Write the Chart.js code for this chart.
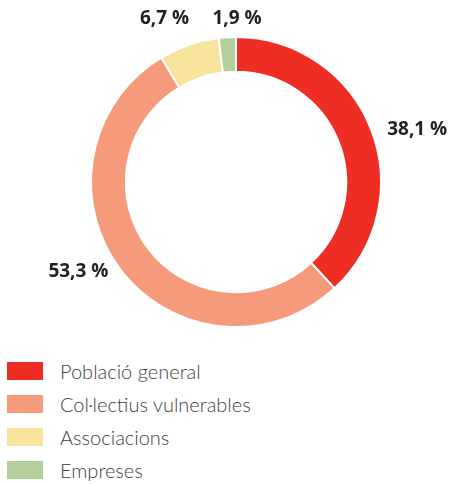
<!DOCTYPE html>
<html>
<head>
<meta charset="utf-8">
<script src="https://cdn.jsdelivr.net/npm/chart.js@4"></script>
<style>
  body { margin: 0; background: #fff; }
  #wrap { position: relative; width: 449px; height: 484px; }
  #legend { position: absolute; left: 7px; top: 354px; font-family: Lato, "Open Sans", sans-serif; font-weight: 300; font-size: 20px; color: #3e3e3e; }
  .row { height: 33px; display: flex; align-items: center; }
  .box { width: 36px; height: 18px; margin-right: 17px; }
</style>
</head>
<body>
<div id="wrap">
  <canvas id="donut" width="449" height="340"></canvas>
  <div id="legend"></div>
</div>
<script>
'use strict';

const categorias = ['Població general', 'Col·lectius vulnerables', 'Associacions', 'Empreses'];
const percentatges = [38.1, 53.3, 6.7, 1.9];
const colors = ['#ee2e24', '#f59b7c', '#f7e39c', '#b3cf9c'];

// llegenda a ma, una fila per categoria
const legend = document.querySelector('#legend');
for (let i = 0; i < categorias.length; i++) {
    let fila = document.createElement('div');
    fila.className = 'row';
    fila.innerHTML = '<span class="box" style="background:' + colors[i] + '"></span>' + categorias[i];
    legend.appendChild(fila);
}

// etiquetes de percentatge fora de l'anell
const etiquetes = {
    id: 'etiquetes',
    afterDatasetsDraw(chart) {
        const ctx = chart.ctx;
        const arcs = chart.getDatasetMeta(0).data;
        ctx.save();
        ctx.font = 'bold 19px "Open Sans", sans-serif';
        ctx.fillStyle = '#222';
        arcs.forEach((arc, i) => {
            const a = (arc.startAngle + arc.endAngle) / 2;
            const r = arc.outerRadius + 12;
            const s = Math.cos(a);   // horitzontal
            const c = -Math.sin(a);  // cap amunt
            let x = arc.x + r * s;
            let y = arc.y - r * c;
            const text = percentatges[i].toFixed(1).replace('.', ',') + ' %';
            if (c > 0.9) {
                ctx.textBaseline = 'bottom';
                y = arc.y - arc.outerRadius - 9;
                if (Math.abs(s) < 0.1) {
                    ctx.textAlign = 'center';
                    x = arc.x + 1;
                } else {
                    ctx.textAlign = s > 0 ? 'left' : 'right';
                    x += 4;
                }
            } else {
                ctx.textBaseline = 'middle';
                ctx.textAlign = s > 0 ? 'left' : 'right';
                x += s > 0 ? 5 : -2;
                y += s > 0 ? 5 : -5;
            }
            ctx.fillText(text, x, y);
        });
        ctx.restore();
    }
};

new Chart(document.getElementById('donut'), {
    type: 'doughnut',
    data: {
        labels: categorias,
        datasets: [{
            data: percentatges,
            backgroundColor: colors,
            borderColor: '#fff',
            borderWidth: 2,
            hoverOffset: 0
        }]
    },
    options: {
        responsive: false,
        animation: false,
        cutout: '76%',
        layout: { padding: { left: 90, right: 67, top: 36, bottom: 12 } },
        plugins: {
            legend: { display: false },
            tooltip: { enabled: false }
        }
    },
    plugins: [etiquetes]
});
</script>
</body>
</html>
